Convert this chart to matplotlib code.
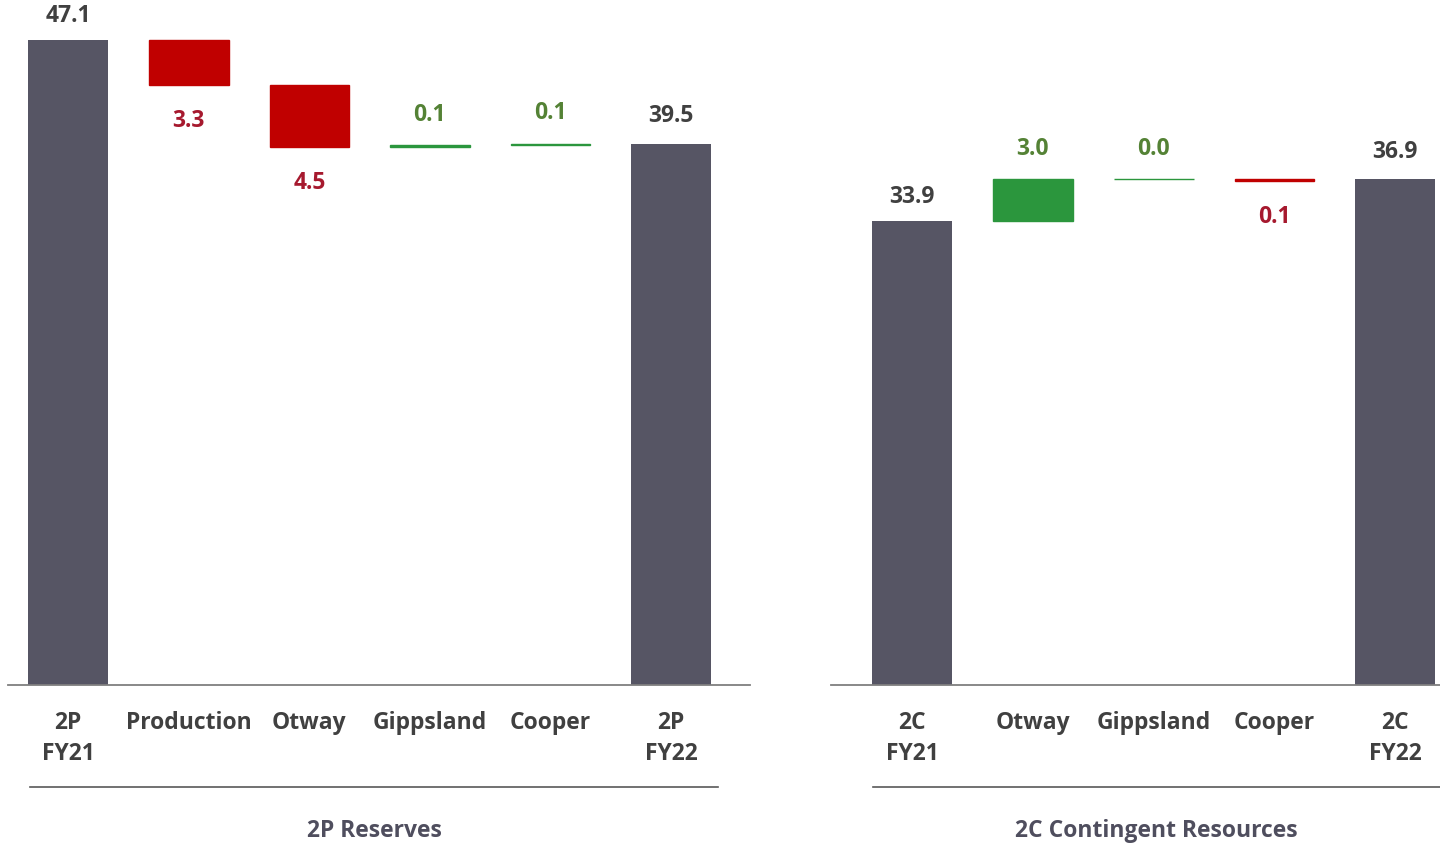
import matplotlib.pyplot as plt
from matplotlib.lines import Line2D

plt.rcParams['font.family'] = ['Open Sans', 'DejaVu Sans']
plt.rcParams['font.weight'] = 'bold'

# 2P reserves bridge
p_labels = ["2P\nFY21", "Production", "Otway", "Gippsland", "Cooper", "2P\nFY22"]
p_start = 47.1
p_changes = [-3.3, -4.5, 0.1, 0.1]
p_end = 39.5

# 2C contingent resources bridge
c_labels = ["2C\nFY21", "Otway", "Gippsland", "Cooper", "2C\nFY22"]
c_start = 33.9
c_changes = [3.0, 0.0, -0.1]
c_end = 36.9

TOTAL = '#565564'
RED = '#c00000'
GREEN = '#2b963d'
TXT = '#404040'
RED_TXT = '#a6192e'
GREEN_TXT = '#548235'
FS = 16.5

W, H = 1440, 844
fig = plt.figure(figsize=(W / 100, H / 100), dpi=100)


def waterfall(ax, labels, start, changes, end, xlim):
    ax.bar(0, start, width=0.66, color=TOTAL)
    ax.annotate(f"{start:.1f}", (0, start), xytext=(0, 17), textcoords='offset points',
                ha='center', va='center', fontsize=FS, color=TXT)
    level = start
    for i, d in enumerate(changes, start=1):
        col = GREEN if d >= 0 else RED
        ax.bar(i, d, bottom=level, width=0.66, color=col, edgecolor=col, linewidth=1)
        if d >= 0:
            ax.annotate(f"{abs(d):.1f}", (i, level + d), xytext=(0, 22), textcoords='offset points',
                        ha='center', va='center', fontsize=FS, color=GREEN_TXT)
        else:
            ax.annotate(f"{abs(d):.1f}", (i, level + d), xytext=(0, -26), textcoords='offset points',
                        ha='center', va='center', fontsize=FS, color=RED_TXT)
        level += d
    n = len(changes) + 1
    ax.bar(n, end, width=0.66, color=TOTAL)
    ax.annotate(f"{end:.1f}", (n, end), xytext=(0, 20), textcoords='offset points',
                ha='center', va='center', fontsize=FS, color=TXT)

    ax.set_xlim(*xlim)
    ax.set_ylim(0, 50)
    ax.set_xticks(range(len(labels)))
    ax.set_xticklabels(labels, fontsize=FS, color=TXT, linespacing=1.35)
    ax.tick_params(axis='x', length=0, pad=19)
    ax.set_yticks([])
    for s in ['top', 'right', 'left']:
        ax.spines[s].set_visible(False)
    ax.spines['bottom'].set_color('#7f7f7f')
    ax.spines['bottom'].set_linewidth(1.3)


ax_b = (H - 685) / H
ax_h = 685 / H
ax1 = fig.add_axes([8 / W, ax_b, 742 / W, ax_h])
ax1.patch.set_alpha(0)
waterfall(ax1, p_labels, p_start, p_changes, p_end, (-0.5, 5.655))

ax2 = fig.add_axes([831 / W, ax_b, 609 / W, ax_h])
ax2.patch.set_alpha(0)
waterfall(ax2, c_labels, c_start, c_changes, c_end, (-0.67, 4.37))

# group separators and titles
ly = (H - 787) / H
fig.add_artist(Line2D([30 / W, 718 / W], [ly, ly], color='#595959', linewidth=1.2))
fig.add_artist(Line2D([873 / W, 1440 / W], [ly, ly], color='#595959', linewidth=1.2))
ty = (H - 831) / H
fig.text(374 / W, ty, "2P Reserves", ha='center', va='center', fontsize=FS, color='#4f4e5e')
fig.text(1156 / W, ty, "2C Contingent Resources", ha='center', va='center', fontsize=FS, color='#4f4e5e')

fig.savefig('out.png', dpi=100)
